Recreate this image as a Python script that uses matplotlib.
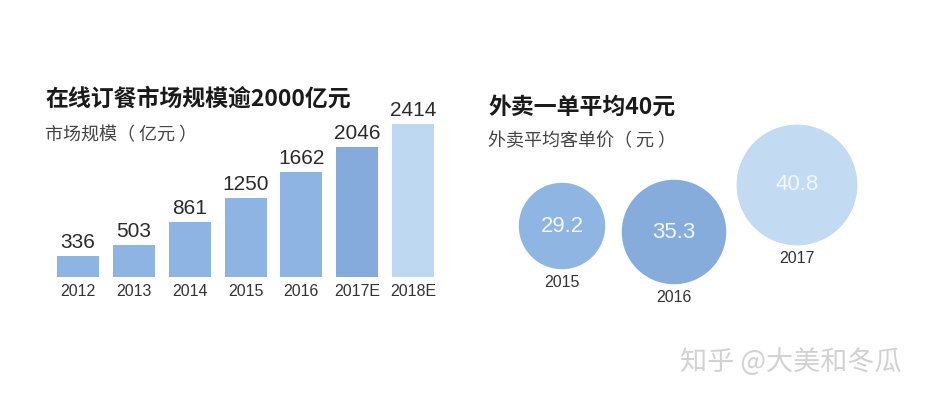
import matplotlib.pyplot as plt
from matplotlib.patches import Circle
import numpy as np

plt.rcParams['font.family'] = ['Noto Sans CJK SC', 'DejaVu Sans']

# 数据
years = ["2012", "2013", "2014", "2015", "2016", "2017E", "2018E"]
market = [336, 503, 861, 1250, 1662, 2046, 2414]

price_years = ["2015", "2016", "2017"]
price = [29.2, 35.3, 40.8]

# 颜色
bar_colors = ["#8db4e2", "#8db4e2", "#8db4e2", "#8db4e2", "#8db4e2", "#84abdc", "#bed8f1"]
circle_colors = ["#8fb6e3", "#86acdc", "#c2daf2"]
num_font = ['Liberation Sans', 'DejaVu Sans']

W, H = 932, 400
fig = plt.figure(figsize=(W / 100, H / 100), dpi=100)
fig.patch.set_facecolor("white")

def fx(px):
    return px / W

def fy(py):
    return 1 - py / H

##########################################################################
# 左：柱状图
ax = fig.add_axes([fx(40), fy(277), fx(410), 167 / H])
x = np.arange(len(years))
ax.bar(x, market, width=0.75, color=bar_colors)
ax.set_xlim(-0.68, 6.66)
ax.set_ylim(0, 2635)
ax.axis("off")
for i, v in enumerate(market):
    ax.annotate(str(v), (i, v), xytext=(0, 4), textcoords="offset pixels",
                ha="center", va="bottom", fontsize=15, color="#2b2b2b", family=num_font)
    ax.annotate(years[i], (i, 0), xytext=(0, -14), textcoords="offset pixels",
                ha="center", va="center", fontsize=11.5, color="#333333", family=num_font)

fig.text(fx(45), fy(99), "在线订餐市场规模逾2000亿元", fontsize=16.5, fontweight="bold",
         color="#1a1a1a", va="center", ha="left")
fig.text(fx(45), fy(135), "市场规模（ 亿元 ）", fontsize=13, color="#444444", va="center", ha="left")

##########################################################################
# 右：气泡
ax2 = fig.add_axes([fx(470), fy(330), fx(460), 230 / H])
ax2.set_xlim(470, 930)
ax2.set_ylim(330, 100)
ax2.axis("off")
cx = [562, 674, 797]
cy = [226, 232, 185]
scale = 1.48  # 半径 px / 元
for i, v in enumerate(price):
    r = v * scale
    ax2.add_patch(Circle((cx[i], cy[i]), r, color=circle_colors[i], lw=0))
    ax2.text(cx[i], cy[i], f"{v:.1f}", ha="center", va="center", fontsize=16,
             color="#f2f7fd", family=num_font)
    ax2.text(cx[i], cy[i] + r + 13, price_years[i], ha="center", va="center",
             fontsize=11.5, color="#333333", family=num_font)

fig.text(fx(488), fy(107), "外卖一单平均40元", fontsize=16.5, fontweight="bold",
         color="#1a1a1a", va="center", ha="left")
fig.text(fx(488), fy(141), "外卖平均客单价（ 元 ）", fontsize=13, color="#444444", va="center", ha="left")

# 水印
fig.text(fx(680), fy(362), "知乎 @大美和冬瓜", fontsize=19.5, color="#d2d2d2", va="center", ha="left")

plt.savefig("out.png", dpi=100, facecolor="white")
